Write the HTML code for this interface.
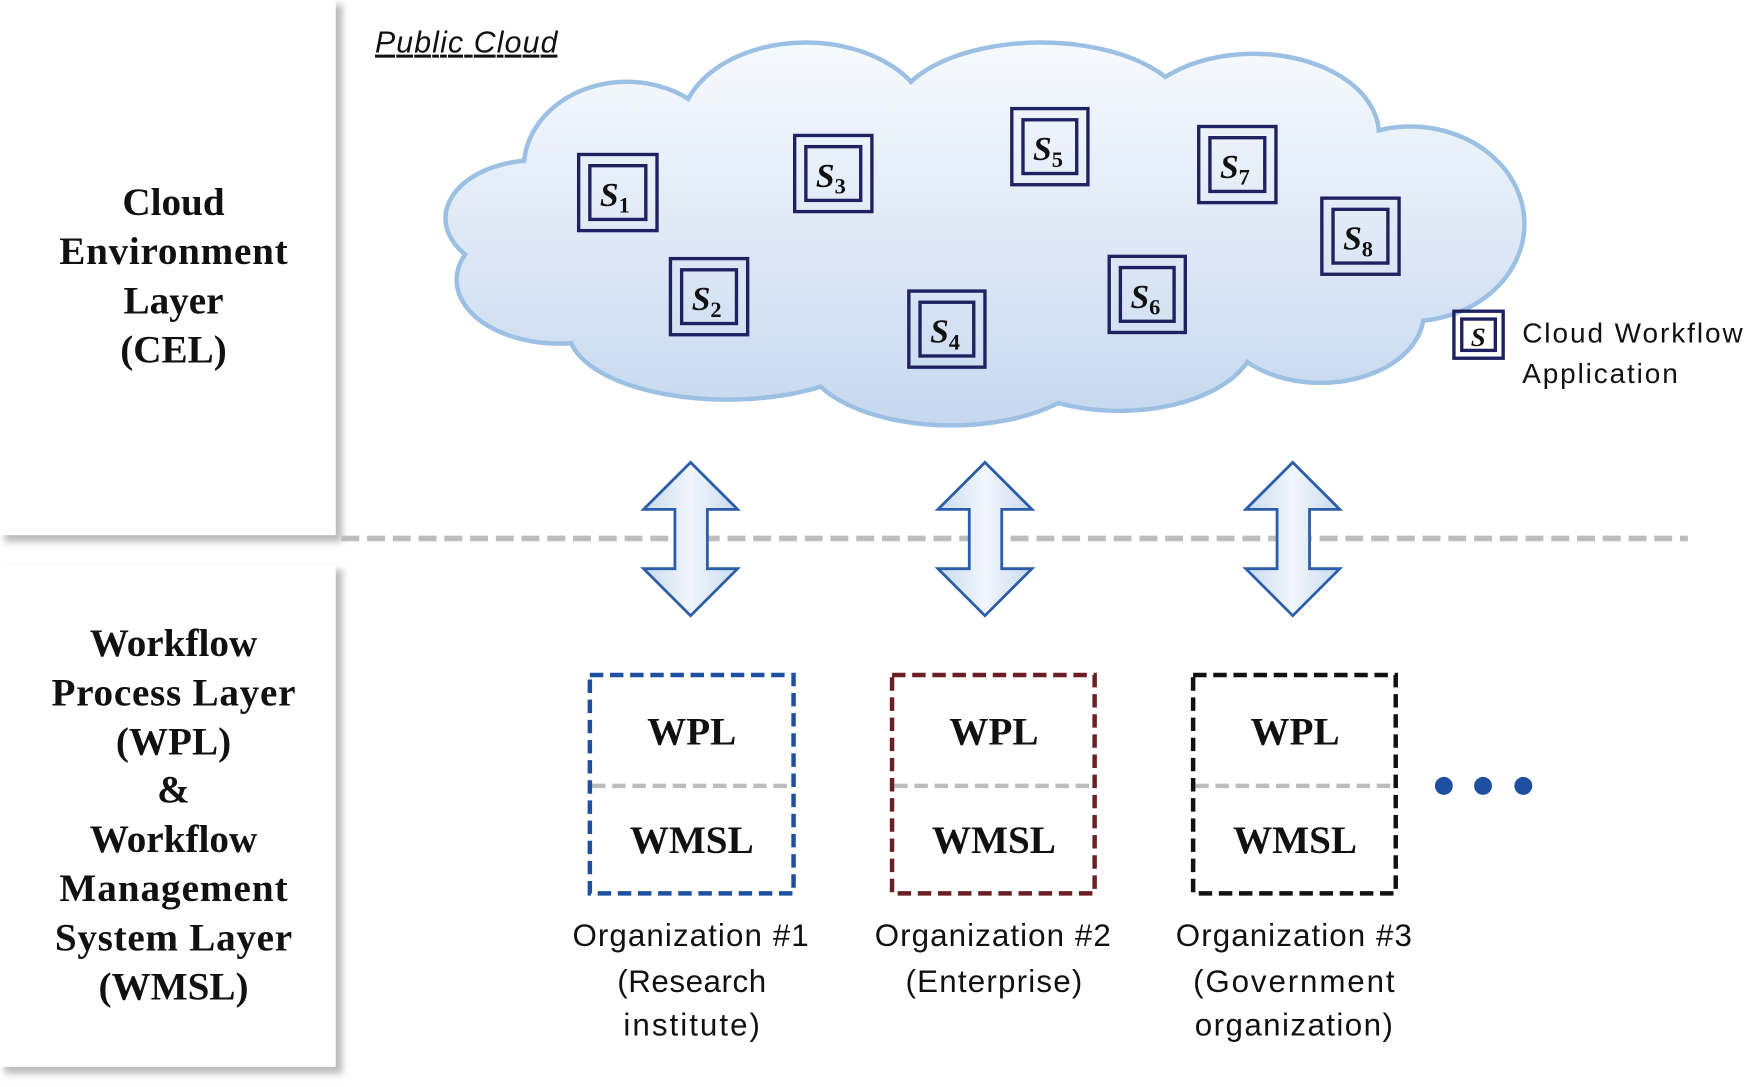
<!DOCTYPE html>
<html><head><style>html,body{margin:0;padding:0;background:#fff}svg{display:block}</style></head>
<body>
<svg width="1755" height="1087" viewBox="0 0 1568 971" preserveAspectRatio="none" xmlns="http://www.w3.org/2000/svg">
<defs>
<linearGradient id="cg" gradientUnits="userSpaceOnUse" x1="0" y1="40" x2="0" y2="380"><stop offset="0" stop-color="#f7fafd"/><stop offset="1" stop-color="#c6d8ef"/></linearGradient>
<linearGradient id="ag" x1="0" y1="0" x2="1" y2="0"><stop offset="0" stop-color="#c8daf0"/><stop offset="0.5" stop-color="#f2f6fc"/><stop offset="1" stop-color="#c8daf0"/></linearGradient>
<filter id="sh" x="-10%" y="-10%" width="130%" height="130%"><feGaussianBlur stdDeviation="3"/></filter>
<g id="cl">
<ellipse cx="560" cy="150" rx="90" ry="75"/>
<ellipse cx="720" cy="115" rx="110" ry="75"/>
<ellipse cx="930" cy="105" rx="130" ry="65"/>
<ellipse cx="1120" cy="120" rx="110" ry="70"/>
<ellipse cx="1260" cy="200" rx="100" ry="85"/>
<ellipse cx="1180" cy="280" rx="90" ry="60"/>
<ellipse cx="1000" cy="300" rx="120" ry="65"/>
<ellipse cx="850" cy="315" rx="130" ry="63"/>
<ellipse cx="650" cy="295" rx="140" ry="60"/>
<ellipse cx="500" cy="250" rx="90" ry="55"/>
<ellipse cx="480" cy="195" rx="80" ry="50"/>
<ellipse cx="880" cy="210" rx="390" ry="125"/>
</g>
</defs>
<rect x="4" y="4" width="302" height="480" fill="#bbb" filter="url(#sh)"/>
<rect x="0" y="0" width="300" height="478" fill="#fff"/>
<rect x="4" y="509" width="302" height="450" fill="#bbb" filter="url(#sh)"/>
<rect x="0" y="505" width="300" height="448" fill="#fff"/>
<g font-family="Liberation Serif, serif" font-weight="bold" font-size="35" text-anchor="middle" fill="#111">
<text x="155" y="192">Cloud</text><text x="155" y="236" textLength="204">Environment</text><text x="155" y="280">Layer</text><text x="155" y="324">(CEL)</text>
<text x="155" y="586">Workflow</text><text x="155" y="630" textLength="218">Process Layer</text><text x="155" y="674">(WPL)</text><text x="155" y="717">&amp;</text><text x="155" y="761">Workflow</text><text x="155" y="805" textLength="204">Management</text><text x="155" y="849" textLength="212">System Layer</text><text x="155" y="893">(WMSL)</text>
</g>
<text x="335" y="47" font-family="Liberation Sans, sans-serif" font-style="italic" font-size="27" text-decoration="underline" fill="#111" textLength="163">Public Cloud</text>
<use href="#cl" fill="none" stroke="#9cc0e4" stroke-width="8"/>
<use href="#cl" fill="url(#cg)" stroke="none"/>
<g fill="none" stroke="#1f2260" stroke-width="3">
<rect x="517" y="138" width="70" height="68"/><rect x="527" y="148" width="50" height="48"/>
<rect x="599" y="231" width="69" height="68"/><rect x="609" y="241" width="49" height="48"/>
<rect x="710" y="121" width="69" height="68"/><rect x="720" y="131" width="49" height="48"/>
<rect x="812" y="260" width="68" height="68"/><rect x="822" y="270" width="48" height="48"/>
<rect x="904" y="97" width="68" height="68"/><rect x="914" y="107" width="48" height="48"/>
<rect x="991" y="229" width="68" height="68"/><rect x="1001" y="239" width="48" height="48"/>
<rect x="1071" y="113" width="69" height="68"/><rect x="1081" y="123" width="49" height="48"/>
<rect x="1181" y="177" width="69" height="68"/><rect x="1191" y="187" width="49" height="48"/>
<rect x="1299" y="278" width="44" height="42"/><rect x="1306" y="285" width="30" height="28"/>
</g>
<g font-family="Liberation Serif, serif" font-style="italic" font-weight="bold" font-size="30" fill="#111">
<text x="536" y="184">S<tspan font-size="20" font-style="normal" dy="6">1</tspan></text>
<text x="618" y="277">S<tspan font-size="20" font-style="normal" dy="6">2</tspan></text>
<text x="729" y="167">S<tspan font-size="20" font-style="normal" dy="6">3</tspan></text>
<text x="831" y="306">S<tspan font-size="20" font-style="normal" dy="6">4</tspan></text>
<text x="923" y="143">S<tspan font-size="20" font-style="normal" dy="6">5</tspan></text>
<text x="1010" y="275">S<tspan font-size="20" font-style="normal" dy="6">6</tspan></text>
<text x="1090" y="159">S<tspan font-size="20" font-style="normal" dy="6">7</tspan></text>
<text x="1200" y="223">S<tspan font-size="20" font-style="normal" dy="6">8</tspan></text>
<text x="1314" y="309" font-size="24">S</text>
</g>
<g font-family="Liberation Sans, sans-serif" font-size="25" fill="#111">
<text x="1360" y="306" textLength="197">Cloud Workflow</text><text x="1360" y="342" textLength="139">Application</text>
</g>
<line x1="305" y1="481" x2="1508" y2="481" stroke="#bdbdbd" stroke-width="5" stroke-dasharray="16 7"/>
<g fill="url(#ag)" stroke="#2c5da8" stroke-width="2.5" stroke-linejoin="miter">
<path d="M617,413 L659,455 L632,455 L632,508 L659,508 L617,550 L575,508 L603,508 L603,455 L575,455 Z"/>
<path d="M880,413 L922,455 L895,455 L895,508 L922,508 L880,550 L838,508 L866,508 L866,455 L838,455 Z"/>
<path d="M1155,413 L1197,455 L1170,455 L1170,508 L1197,508 L1155,550 L1113,508 L1141,508 L1141,455 L1113,455 Z"/>
</g>
<g stroke="#bdbdbd" stroke-width="4" stroke-dasharray="12 6">
<line x1="529" y1="702" x2="707" y2="702"/><line x1="799" y1="702" x2="976" y2="702"/><line x1="1068" y1="702" x2="1245" y2="702"/>
</g>
<g fill="none" stroke-width="4" stroke-dasharray="12 6">
<rect x="527" y="603" width="182" height="195" stroke="#1f4fa0"/>
<rect x="797" y="603" width="181" height="195" stroke="#6b1f25"/>
<rect x="1066" y="603" width="181" height="195" stroke="#111"/>
</g>
<g font-family="Liberation Serif, serif" font-weight="bold" font-size="35" text-anchor="middle" fill="#111">
<text x="618" y="665">WPL</text><text x="618" y="762">WMSL</text>
<text x="888" y="665">WPL</text><text x="888" y="762">WMSL</text>
<text x="1157" y="665">WPL</text><text x="1157" y="762">WMSL</text>
</g>
<g font-family="Liberation Sans, sans-serif" font-size="28" text-anchor="middle" fill="#111">
<text x="617" y="845" textLength="211">Organization #1</text><text x="618" y="886" textLength="133">(Research</text><text x="618" y="925" textLength="122">institute)</text>
<text x="887" y="845" textLength="211">Organization #2</text><text x="888" y="886" textLength="158">(Enterprise)</text>
<text x="1156" y="845" textLength="211">Organization #3</text><text x="1156" y="886" textLength="180">(Government</text><text x="1156" y="925" textLength="177">organization)</text>
</g>
<g fill="#1f4fa0"><circle cx="1290" cy="702" r="8"/><circle cx="1325" cy="702" r="8"/><circle cx="1361" cy="702" r="8"/></g>
</svg>
</body></html>
